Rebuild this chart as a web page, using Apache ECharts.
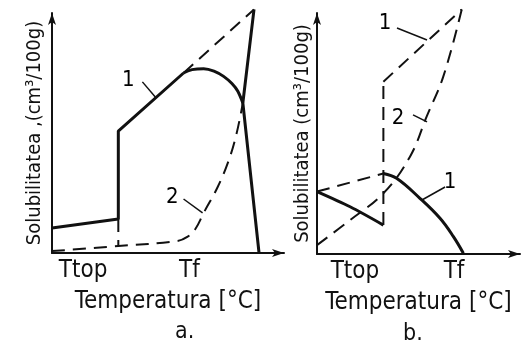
<!DOCTYPE html>
<html>
<head>
<meta charset="utf-8">
<script src="https://cdn.jsdelivr.net/npm/echarts@6/dist/echarts.min.js"></script>
<style>
  html, body { margin: 0; padding: 0; background: #fff; }
  #chart { width: 523px; height: 348px; }
</style>
</head>
<body>
<div id="chart"></div>
<script>
const font = "'DejaVu Sans Condensed', 'DejaVu Sans', sans-serif";
const ink = '#111';

// panel a (units: x 0..106, y 0..100)
const aCurve1 = [[0, 10.4], [30.3, 14.2], [30.3, 50.8], [60.1, 75]];
const aCurve1Top = [[60.1, 75], [64, 76.4], [69.3, 76.8], [74, 75.8], [78.4, 73.6], [82.2, 70.6], [84.9, 67.4], [87.2, 62.5]];
const aDash1 = [[60.1, 75], [92.3, 101.5]];
const aSteep = [[92.3, 101.5], [87.2, 62.5], [94.6, 0]];
const aDash2 = [[0, 0.8], [30.3, 2.9], [57.3, 5], [62, 6.8], [65.5, 10], [69.3, 16.7], [75.7, 27.5], [80.5, 38], [84, 48.5], [87.2, 62.5]];
const aDashTick = [[30.3, 14.2], [30.3, 2.9]];
const aLeaders = [[[41.3, 71.3], [47.2, 65]], [[60.1, 22.5], [68.8, 16.7]]];
const aLabels = [[34.9, 72.1, '1'], [55, 23.3, '2']];
const aTicks = [14.2, 62.8];

// panel b (units: x 0..100, y 0..100)
const bSolidLeft = [[0, 25.9], [16.3, 19.6], [32.7, 12.0]];
const bVertical = [[32.7, 12.0], [32.7, 71.5]];
const bDash1 = [[32.7, 71.5], [71.3, 101.5]];
const bDashLeft = [[0, 25.9], [32.7, 33.4]];
const bSolidRight = [[32.7, 33.4], [39.2, 31.4], [50.7, 23.1], [60.6, 14.8], [67.2, 7.2], [72.1, 0.3]];
const bDash2 = [[0, 3.7], [16.3, 14.1], [32.7, 25.2], [45.8, 40.4], [54, 57], [62.2, 73.6], [71.3, 101.5]];
const bLeaders = [[[39.4, 93.8], [54.2, 88.8]], [[47.3, 57.7], [54.2, 54.8]], [[63.1, 27.8], [51.7, 22.4]]];
const bLabels = [[33.5, 95.9, '1'], [39.9, 56.4, '2'], [65.5, 29.9, '1']];
const bTicks = [18.7, 67.5];

const tickNames = ['Ttop', 'Tf'];

function lineSeries(idx, data, width, dashed, smooth) {
  return {
    type: 'line', xAxisIndex: idx, yAxisIndex: idx, data: data,
    showSymbol: false, clip: false, smooth: smooth || false, silent: true,
    lineStyle: { color: ink, width: width, type: dashed ? [13, 8] : 'solid' }
  };
}

function labelSeries(idx, items) {
  return {
    type: 'scatter', xAxisIndex: idx, yAxisIndex: idx, symbolSize: 0, silent: true,
    itemStyle: { opacity: 1, color: '#000' },
    data: items.map(d => ({ value: [d[0], d[1]], name: d[2] })),
    label: {
      show: true, position: 'inside', formatter: p => p.name,
      color: '#000', textBorderWidth: 0, fontSize: 22, fontFamily: font
    }
  };
}

function xAxis(idx, max, ticks, gap) {
  return {
    type: 'value', gridIndex: idx, min: 0, max: max,
    name: 'Temperatura [°C]', nameLocation: 'middle', nameGap: gap,
    nameTextStyle: { color: ink, fontSize: 24, fontFamily: font },
    axisLine: { show: true, symbol: ['none', 'arrow'], symbolSize: [6, 12], lineStyle: { color: ink, width: 2 } },
    axisTick: { show: false },
    splitLine: { show: false },
    axisLabel: {
      customValues: ticks, color: ink, fontSize: 24, fontFamily: font, margin: 6,
      formatter: v => tickNames[ticks.indexOf(v)]
    }
  };
}

function yAxis(idx, name, gap) {
  return {
    type: 'value', gridIndex: idx, min: 0, max: 100,
    name: name, nameLocation: 'middle', nameRotate: 90, nameGap: gap,
    nameTextStyle: { color: ink, fontSize: 20, fontFamily: font },
    axisLine: { show: true, symbol: ['none', 'arrow'], symbolSize: [6, 12], lineStyle: { color: ink, width: 2 } },
    axisTick: { show: false }, axisLabel: { show: false }, splitLine: { show: false }
  };
}

const chart = echarts.init(document.getElementById('chart'));
chart.setOption({
  backgroundColor: '#fff',
  animation: false,
  title: [
    { text: 'a.', left: 170, top: 316, textStyle: { color: ink, fontSize: 23, fontWeight: 'normal', fontFamily: font } },
    { text: 'b.', left: 398, top: 318, textStyle: { color: ink, fontSize: 23, fontWeight: 'normal', fontFamily: font } }
  ],
  grid: [
    { left: 52, top: 13, width: 232, height: 240 },
    { left: 317, top: 13, width: 203, height: 241 }
  ],
  xAxis: [xAxis(0, 106, aTicks, 37), xAxis(1, 100, bTicks, 37)],
  yAxis: [yAxis(0, 'Solubilitatea ,(cm³/100g)', 7), yAxis(1, 'Solubilitatea (cm³/100g)', 4)],
  series: [
    lineSeries(0, aCurve1, 3, false),
    lineSeries(0, aCurve1Top, 3, false, 0.3),
    lineSeries(0, aDash1, 2, true),
    lineSeries(0, aSteep, 3, false),
    lineSeries(0, aDash2, 2, true, 0.4),
    lineSeries(0, aDashTick, 2, true),
    ...aLeaders.map(d => lineSeries(0, d, 1.5, false)),
    labelSeries(0, aLabels),
    lineSeries(1, bSolidLeft, 3, false, 0.3),
    lineSeries(1, bVertical, 2, true),
    lineSeries(1, bDash1, 2, true),
    lineSeries(1, bDashLeft, 2, true),
    lineSeries(1, bSolidRight, 3, false, 0.4),
    lineSeries(1, bDash2, 2, true, 0.4),
    ...bLeaders.map(d => lineSeries(1, d, 1.5, false)),
    labelSeries(1, bLabels)
  ]
});
</script>
</body>
</html>
